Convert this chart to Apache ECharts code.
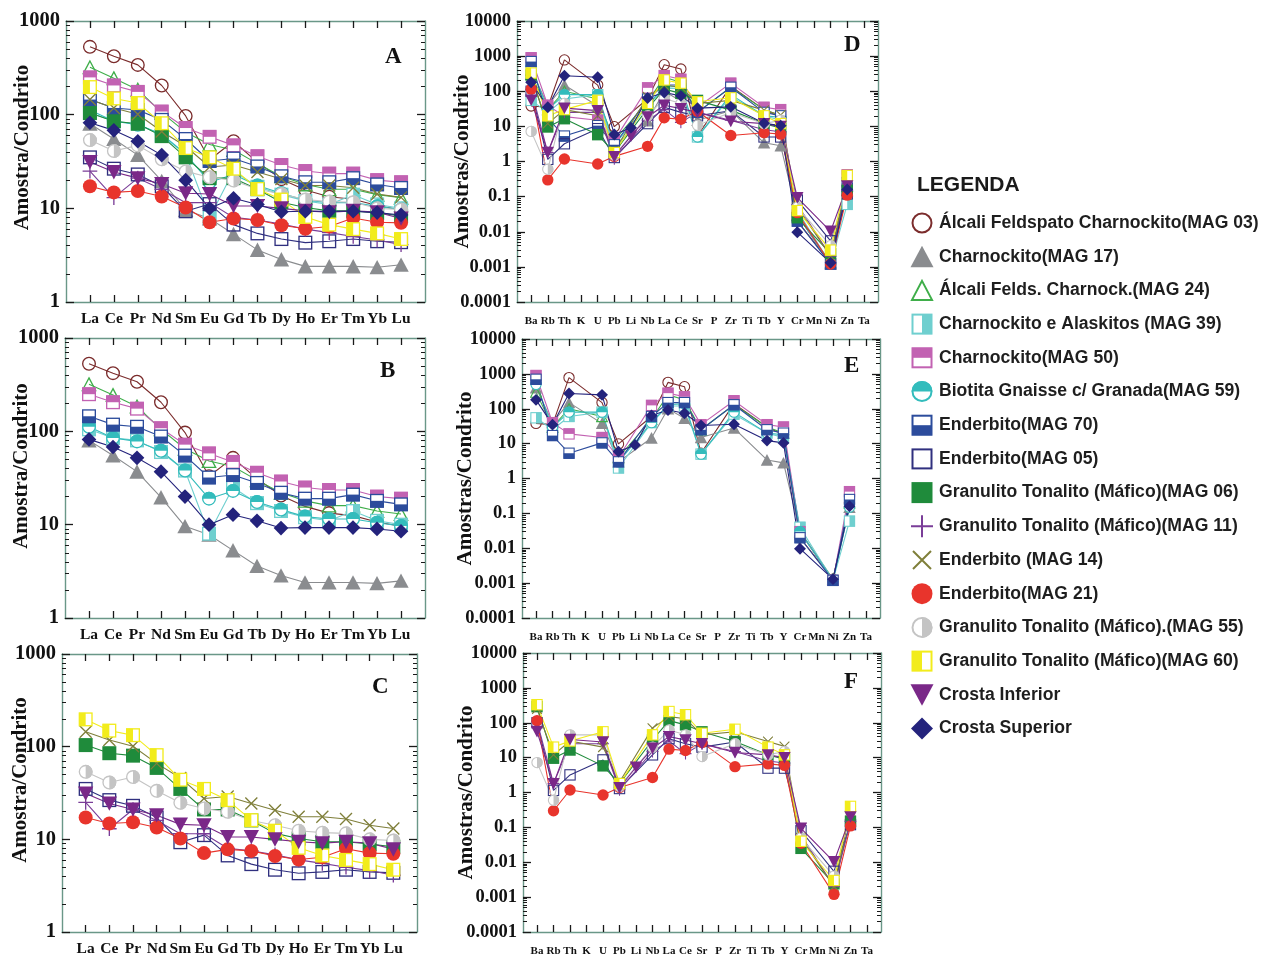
<!DOCTYPE html>
<html><head><meta charset="utf-8">
<script src="https://cdn.jsdelivr.net/npm/echarts@6/dist/echarts.min.js"></script>
<style>html,body{margin:0;padding:0;background:#fff}#c{width:1263px;height:955px}</style>
</head><body><div id="c"></div><script>
// ---------- categories & ticks ----------
const reeElements = ['La','Ce','Pr','Nd','Sm','Eu','Gd','Tb','Dy','Ho','Er','Tm','Yb','Lu'];
const spiderElements = ['Ba','Rb','Th','K','U','Pb','Li','Nb','La','Ce','Sr','P','Zr','Ti','Tb','Y','Cr','Mn','Ni','Zn','Ta'];
const reeMajorTicks = [1, 10, 100, 1000];
const spiderMajorTicks = [0.0001, 0.001, 0.01, 0.1, 1, 10, 100, 1000, 10000];

// ---------- REE (chondrite normalised) ----------
const reeMAG03 = [530, 420, 340, 205, 97, 33, 52, 31, 20.5, 15.7, 13.3, 12.5, 10.7, 9.6];
const reeMAG17 = [80, 55, 37, 19.6, 9.6, 7.8, 5.3, 3.6, 2.85, 2.4, 2.4, 2.4, 2.35, 2.5];
const reeMAG24 = [320, 245, 185, 105, 65, 48, 42, 30, 22, 18, 16, 16, 14, 13];
const reeMAG39 = [105, 85, 80, 60, 38, 8, 25, 17, 14, 12, 11, 14, 11, 10];
const reeMAG50 = [250, 205, 175, 108, 72, 58, 47, 36, 29, 25, 23.5, 23.5, 20, 19];
const reeMAG59 = [112, 85, 78, 62, 38, 19, 23, 17.5, 14.5, 12.2, 11.5, 11.5, 10.5, 9.7];
const reeMAG70 = [145, 118, 112, 88, 55, 32, 34, 28, 22, 19, 19, 21, 18, 16.5];
const reeMAG05 = [35, 26.5, 23, 17.2, 9.3, 11.1, 6.7, 5.4, 4.7, 4.3, 4.45, 4.7, 4.45, 4.35];
const reeMAG06 = [104, 85, 80, 59, 35, 21, 21, 16, 11.6, 10.2, 9.4, 9.4, 8.9, 8.3];
const reeMAG11 = [25, 13, 21, 16, 11.5, 11.5, 8, 7.5, 6.8, 6, 5.5, 5, 4.6, 4.1];
const reeMAG14 = [145, 118, 101, 66, 46, 27.6, 29, 24.4, 20.6, 17.5, 17.5, 16.6, 14.2, 13.1];
const reeMAG21 = [17.2, 14.8, 15.3, 13.4, 10.2, 7.1, 7.8, 7.5, 6.6, 6.05, 6.4, 7.9, 7.1, 7.0];
const reeMAG55 = [53.5, 41, 47, 33.4, 24.8, 21.5, 19.8, 16, 14.2, 12.4, 11.8, 11.6, 10, 9.7];
const reeMAG60 = [197, 149, 133, 81, 44, 35, 26.5, 16.1, 12.4, 8.1, 6.7, 6.0, 5.4, 4.7];
const reeCI    = [31.3, 24.4, 21, 18.2, 14.5, 14.2, 10.6, 10.6, 10, 9.4, 9.1, 9.4, 9.1, 7.8];
const reeCS    = [82, 68, 52, 37, 20, 10, 12.8, 11, 9.2, 9.3, 9.3, 9.3, 9, 8.5];

// ---------- spider diagram ----------
const spMAG03 = [38, 35, 780, null, 150, 9.8, null, 60, 570, 430, 5.3, null, 140, null, 30, 18, 0.02, null, 0.0013, 0.2, null];
const spMAG17 = [400, 40, 150, null, 38, 3, null, 14.5, 100, 53, 15, null, 28, null, 3.4, 2.8, 0.03, null, 0.0012, 0.15, null];
const spMAG24 = [300, 30, 100, null, 60, 4, null, 50, 250, 180, 25, null, 130, null, 30, 20, 0.03, null, 0.0013, 0.2, null];
const spMAG39 = [55, 25, 60, null, 80, 2, null, 40, 120, 120, 5, null, 70, null, 20, 15, 0.04, null, 0.0012, 0.06, null];
const spMAG50 = [900, 40, 19, null, 15, 4, null, 125, 280, 220, 35, null, 170, null, 35, 30, 0.03, null, 0.0012, 0.42, null];
const spMAG59 = [500, 30, 80, null, 80, 3, null, 40, 130, 140, 5, null, 80, null, 20, 18, 0.03, null, 0.0012, 0.15, null];
const spMAG70 = [700, 17, 5.3, null, 10.5, 3, null, 60, 150, 150, 25, null, 130, null, 25, 20, 0.02, null, 0.0012, 0.25, null];
const spMAG05 = [100, 1.15, 3.2, null, 8.6, 1.3, null, 12, 35, 25, 20, null, 28, null, 5, 5, 0.08, null, 0.0055, 0.12, null];
const spMAG06 = [290, 9.6, 16.5, null, 5.8, 1.8, null, 32, 115, 87, 55, null, 29, null, 12, 9, 0.025, null, 0.0024, 0.15, null];
const spMAG11 = [110, 1.8, 25, null, 25, 1.2, null, 15, 30, 13, 25, null, 15, null, 8, 7, 0.06, null, 0.002, 0.15, null];
const spMAG14 = [250, 12, 30, null, 20, 2, null, 70, 150, 130, 45, null, 55, null, 29, 21, 0.05, null, 0.002, 0.3, null];
const spMAG21 = [115, 0.3, 1.18, null, 0.85, 1.4, null, 2.7, 17.5, 16, 27, null, 5.5, null, 6.6, 6.0, 0.035, null, 0.0012, 0.11, null];
const spMAG55 = [7.2, 0.6, 45, null, 45, 1.5, null, 20, 62, 45, 10.7, null, 25, null, 12, 15, 0.05, null, 0.004, 0.3, null];
const spMAG60 = [330, 20, 30, null, 55, 1.8, null, 45, 210, 170, 50, null, 65, null, 20, 12, 0.04, null, 0.003, 0.4, null];
const spCI    = [56, 1.8, 33, null, 28, 1.37, 5.3, 18.5, 40, 32, 25, null, 14, null, 12, 10, 0.094, null, 0.0103, 0.2, null];
const spCS    = [180, 35, 275, null, 250, 5.9, 9.2, 64, 92, 74, 33, null, 36, null, 12.2, 10.5, 0.0097, null, 0.0013, 0.16, null];

// ---------- sample list (legend order) ----------
const samples = [
  {name:'Álcali Feldspato Charnockito(MAG 03)', shape:'openCircle', color:'#7b2c2c', ree:reeMAG03, sp:spMAG03, grp:'f'},
  {name:'Charnockito(MAG 17)', shape:'triangle', color:'#8a8c8f', ree:reeMAG17, sp:spMAG17, grp:'f'},
  {name:'Álcali Felds. Charnock.(MAG 24)', shape:'openTriangle', color:'#3fae4a', ree:reeMAG24, sp:spMAG24, grp:'f'},
  {name:'Charnockito e Alaskitos (MAG 39)', shape:'squareRight', color:'#6fcfcf', ree:reeMAG39, sp:spMAG39, grp:'f'},
  {name:'Charnockito(MAG 50)', shape:'squareTop', color:'#c262b2', ree:reeMAG50, sp:spMAG50, grp:'f'},
  {name:'Biotita Gnaisse c/ Granada(MAG 59)', shape:'circleTop', color:'#33bcbc', ree:reeMAG59, sp:spMAG59, grp:'f'},
  {name:'Enderbito(MAG 70)', shape:'squareBottom', color:'#2c4c9c', ree:reeMAG70, sp:spMAG70, grp:'f'},
  {name:'Enderbito(MAG 05)', shape:'openSquare', color:'#30307f', ree:reeMAG05, sp:spMAG05, grp:'m'},
  {name:'Granulito Tonalito (Máfico)(MAG 06)', shape:'square', color:'#1f8b3b', ree:reeMAG06, sp:spMAG06, grp:'m'},
  {name:'Granulito Tonalito (Máfico)(MAG 11)', shape:'plus', color:'#7a3d98', ree:reeMAG11, sp:spMAG11, grp:'m'},
  {name:'Enderbito (MAG 14)', shape:'cross', color:'#7f7f3a', ree:reeMAG14, sp:spMAG14, grp:'m'},
  {name:'Enderbito(MAG 21)', shape:'circle', color:'#e8342c', ree:reeMAG21, sp:spMAG21, grp:'m'},
  {name:'Granulito Tonalito (Máfico).(MAG 55)', shape:'circleRight', color:'#c4c4c4', ree:reeMAG55, sp:spMAG55, grp:'m'},
  {name:'Granulito Tonalito (Máfico)(MAG 60)', shape:'squareLeft', color:'#f2ec1c', ree:reeMAG60, sp:spMAG60, grp:'m'},
  {name:'Crosta Inferior', shape:'downTriangle', color:'#7a2888', ree:reeCI, sp:spCI, grp:'m'},
  {name:'Crosta Superior', shape:'diamond', color:'#24237c', ree:reeCS, sp:spCS, grp:'f'}
];

function svgSym(shape, c) {
  let b = '';
  const sw = 'stroke-width="2"';
  switch (shape) {
    case 'openCircle': b = `<circle cx="12" cy="12" r="9.5" fill="none" stroke="${c}" ${sw}/>`; break;
    case 'circle': b = `<circle cx="12" cy="12" r="10.5" fill="${c}"/>`; break;
    case 'triangle': b = `<polygon points="12,1 23.5,22.5 0.5,22.5" fill="${c}"/>`; break;
    case 'openTriangle': b = `<polygon points="12,2.5 22,21.5 2,21.5" fill="none" stroke="${c}" ${sw}/>`; break;
    case 'downTriangle': b = `<polygon points="0.5,1.5 23.5,1.5 12,23" fill="${c}"/>`; break;
    case 'diamond': b = `<polygon points="12,1 23,12 12,23 1,12" fill="${c}"/>`; break;
    case 'square': b = `<rect x="1.5" y="1.5" width="21" height="21" fill="${c}"/>`; break;
    case 'openSquare': b = `<rect x="2.5" y="2.5" width="19" height="19" fill="none" stroke="${c}" ${sw}/>`; break;
    case 'squareRight': b = `<rect x="2.5" y="2.5" width="19" height="19" fill="#fff" stroke="${c}" ${sw}/><rect x="12" y="2" width="10" height="20" fill="${c}"/>`; break;
    case 'squareLeft': b = `<rect x="2.5" y="2.5" width="19" height="19" fill="#fff" stroke="${c}" ${sw}/><rect x="2" y="2" width="10" height="20" fill="${c}"/>`; break;
    case 'squareTop': b = `<rect x="2.5" y="2.5" width="19" height="19" fill="#fff" stroke="${c}" ${sw}/><rect x="2" y="2" width="20" height="10" fill="${c}"/>`; break;
    case 'squareBottom': b = `<rect x="2.5" y="2.5" width="19" height="19" fill="#fff" stroke="${c}" ${sw}/><rect x="2" y="12" width="20" height="10" fill="${c}"/>`; break;
    case 'circleTop': b = `<circle cx="12" cy="12" r="9.5" fill="#fff" stroke="${c}" ${sw}/><path d="M1.5,12 A10.5,10.5 0 0 1 22.5,12 Z" fill="${c}"/>`; break;
    case 'circleRight': b = `<circle cx="12" cy="12" r="9.5" fill="#fff" stroke="${c}" ${sw}/><path d="M12,1.5 A10.5,10.5 0 0 1 12,22.5 Z" fill="${c}"/>`; break;
    case 'plus': b = `<path d="M12,1V23M1,12H23" stroke="${c}" ${sw} fill="none"/>`; break;
    case 'cross': b = `<path d="M3,3L21,21M21,3L3,21" stroke="${c}" ${sw} fill="none"/>`; break;
  }
  return 'image://data:image/svg+xml;charset=utf-8,' + encodeURIComponent(
    `<svg xmlns="http://www.w3.org/2000/svg" width="24" height="24" viewBox="0 0 24 24">${b}</svg>`);
}

// ---------- panels ----------
const panels = [
  {letter:'A', kind:'ree', grp:'all', left:66, top:21, width:359, height:281, nameGap:33, namePad:28, lx:385, ly:46},
  {letter:'B', kind:'ree', grp:'f',   left:65, top:338, width:360, height:280, nameGap:33, namePad:24, lx:380, ly:360},
  {letter:'C', kind:'ree', grp:'m',   left:62, top:654, width:355, height:278, nameGap:31, namePad:26, lx:372, ly:676},
  {letter:'D', kind:'sp',  grp:'all', left:517, top:21, width:361, height:281, nameGap:44, namePad:0, lx:844, ly:34},
  {letter:'E', kind:'sp',  grp:'f',   left:522, top:339, width:358, height:279, nameGap:46, namePad:0, lx:844, ly:355},
  {letter:'F', kind:'sp',  grp:'m',   left:523, top:653, width:358, height:279, nameGap:46, namePad:0, lx:844, ly:671}
];

const BOX = '#6a9788', TICK = '#1a1a1a', serif = 'Liberation Serif';
function minorOf(major) {
  const out = [];
  for (let i = 0; i < major.length - 1; i++) for (let m = 2; m <= 9; m++) out.push(Math.log10(major[i] * m));
  return out;
}
function fmtLog(v) {
  const e = Math.round(Math.log10(v));
  return e < 0 ? Math.pow(10, e).toFixed(-e) : String(Math.round(Math.pow(10, e)));
}

const grids = [], xAxes = [], yAxes = [], series = [], titles = [];
panels.forEach((p, k) => {
  const isRee = p.kind === 'ree';
  const cats = isRee ? reeElements : spiderElements;
  const pos = cats.map((_, i) => i + 1);
  const xmin = isRee ? 0 : 0.15, xmax = isRee ? 15 : 21.85;
  const major = isRee ? reeMajorTicks : spiderMajorTicks;
  const ymin = major[0], ymax = major[major.length - 1];
  grids.push({left:p.left, top:p.top, width:p.width, height:p.height, outerBoundsMode:'none', containLabel:false});
  const lineSt = () => ({show:true, onZero:false, lineStyle:{color:BOX, width:1.4}});
  const xt = () => ({show:true, inside:true, length:7, customValues:pos.slice(), lineStyle:{color:TICK, width:1.3}});
  xAxes.push({type:'value', gridIndex:k, min:xmin, max:xmax, position:'bottom', splitLine:{show:false},
    axisLine:lineSt(), axisTick:xt(),
    axisLabel:{show:true, customValues:pos.slice(), formatter:v => cats[Math.round(v) - 1] || '', margin:isRee ? 9 : 14,
      fontFamily:serif, fontWeight:'bold', fontSize:isRee ? 15.5 : 11, color:'#111'}});
  xAxes.push({type:'value', gridIndex:k, min:xmin, max:xmax, position:'top', splitLine:{show:false},
    axisLine:lineSt(), axisTick:xt(), axisLabel:{show:false}});
  const yt = () => ({show:true, inside:true, length:8, lineStyle:{color:TICK, width:1.3}});
  yAxes.push({type:'log', logBase:10, gridIndex:k, min:ymin, max:ymax, position:'left', splitLine:{show:false},
    axisLine:lineSt(), axisTick:yt(),
    name:isRee ? 'Amostra/Condrito' : 'Amostras/Condrito', nameLocation:'middle', nameRotate:90, nameGap:p.nameGap,
    nameMoveOverlap:false,
    nameTextStyle:{fontFamily:serif, fontWeight:'bold', fontSize:21, color:'#111', padding:[0, 0, 0, p.namePad]},
    axisLabel:{formatter:fmtLog, margin:6, fontFamily:serif, fontWeight:'bold', fontSize:isRee ? 20.5 : 18.5, color:'#111'}});
  yAxes.push({type:'log', logBase:10, gridIndex:k, min:ymin, max:ymax, position:'right', splitLine:{show:false},
    axisLine:lineSt(), axisTick:yt(), axisLabel:{show:false}});
  const minor = minorOf(major);
  ['left', 'right'].forEach(side => yAxes.push({type:'value', gridIndex:k, min:Math.log10(ymin), max:Math.log10(ymax),
    position:side, splitLine:{show:false}, axisLine:{show:false, onZero:false}, axisLabel:{show:false},
    axisTick:{show:true, inside:true, length:4, customValues:minor.slice(), lineStyle:{color:TICK, width:1}}}));
  titles.push({text:p.letter, left:p.lx, top:p.ly, padding:0,
    textStyle:{fontFamily:serif, fontWeight:'bold', fontSize:23, color:'#111'}});
  samples.forEach(s => {
    if (p.grp !== 'all' && s.grp !== p.grp) return;
    const vals = isRee ? s.ree : s.sp;
    const pts = vals.map((v, i) => [i + 1, v]).filter(d => d[1] != null);
    series.push({type:'line', name:s.name, xAxisIndex:2 * k, yAxisIndex:4 * k, data:pts,
      symbol:svgSym(s.shape, s.color), symbolSize:isRee ? 16 : 13, showAllSymbol:true,
      lineStyle:{color:s.color, width:1.1}, itemStyle:{color:s.color}, emphasis:{disabled:true}, silent:true});
  });
});

titles.push({text:'LEGENDA', left:917, top:175, padding:0,
  textStyle:{fontFamily:'Liberation Sans', fontWeight:'bold', fontSize:21, color:'#1a1a1a'}});

const option = {
  animation:false,
  backgroundColor:'#fff',
  title:titles,
  grid:grids,
  xAxis:xAxes,
  yAxis:yAxes,
  legend:{orient:'vertical', left:905, top:206, itemWidth:24, itemHeight:24, itemGap:9.7, selectedMode:false,
    data:samples.map(s => ({name:s.name, icon:svgSym(s.shape, s.color)})),
    textStyle:{fontFamily:'Liberation Sans', fontWeight:'bold', fontSize:17.6, color:'#1e1e1e'}},
  series:series
};
const chart = echarts.init(document.getElementById('c'), null, {renderer:'canvas', width:1263, height:955});
chart.setOption(option);
</script></body></html>
